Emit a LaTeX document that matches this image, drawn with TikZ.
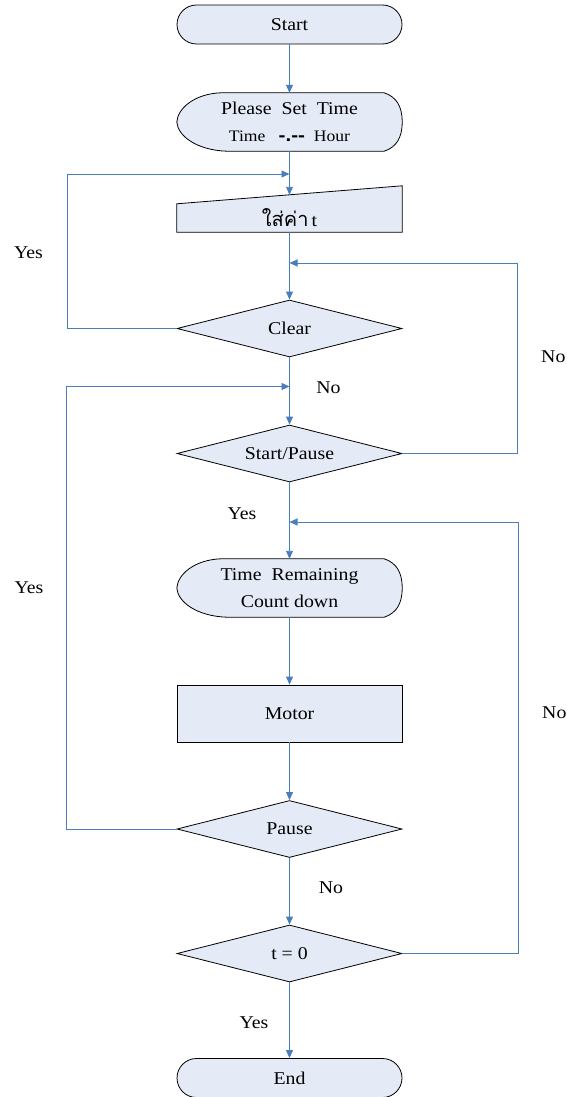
\documentclass[tikz,border=0pt]{standalone}
\usepackage{fontspec}
\setmainfont{Liberation Serif}[FakeStretch=1.1]
\newfontfamily\thaifont[Script=Thai]{Loma}
\newfontfamily\dashfont{Liberation Sans}[FakeStretch=1.15]
\usetikzlibrary{shapes.geometric,shapes.misc,arrows.meta,calc,backgrounds}

\definecolor{flowblue}{HTML}{4A7EBB}
\definecolor{boxfill}{HTML}{E4EBF6}

\tikzset{
  box/.style={draw=black, fill=boxfill, line width=0.8pt, minimum width=225pt,
    inner sep=0pt, font=\fontsize{18}{20}\selectfont},
  terminal/.style={box, rounded rectangle, minimum height=39pt},
  decision/.style={box, diamond, aspect=4, minimum height=57pt},
  process/.style={box, rectangle, minimum height=57pt},
  frame/.style={rectangle, minimum width=225pt, inner sep=0pt, align=center,
    font=\fontsize{18}{20}\selectfont},
  flow/.style={draw=flowblue, line width=0.9pt, -{Triangle[length=8pt,width=7pt]}},
  lbl/.style={font=\fontsize{18}{20}\selectfont, inner sep=0pt},
  outline/.style={draw=black, fill=boxfill, line width=0.8pt},
}

% display symbol drawn round a frame node: bulging left side, rounded right side
\newcommand\dispoutline[1]{%
  \path[outline]
    ($(#1.north west)+(44,0)$) -- ($(#1.north east)+(-18,0)$)
    .. controls ($(#1.north east)+(-6,4)$) and ($(#1.east)+(0,-16)$) .. (#1.east)
    .. controls ($(#1.east)+(0,16)$) and ($(#1.south east)+(-6,-4)$) .. ($(#1.south east)+(-18,0)$)
    -- ($(#1.south west)+(50,0)$)
    .. controls ($(#1.south west)+(20,-1)$) and ($(#1.west)+(1,14)$) .. (#1.west)
    .. controls ($(#1.west)+(1,-14)$) and ($(#1.north west)+(18,1)$) .. cycle;}

\begin{document}
\begin{tikzpicture}[x=1pt, y=-1pt]
\useasboundingbox (0,0) rectangle (566,1097);

% flow symbols
\node[terminal] (start) at (289.5,24.5) {Start};
\node[frame, minimum height=58pt] (set) at (289.5,122)
  {Please~~Set~~Time\\[7pt]{\fontsize{16}{18}\selectfont Time~~~{\dashfont\bfseries\fontsize{18}{18}\selectfont -.--}~~Hour}};
\node[frame, minimum height=28pt] (input) at (289.5,218)
  {{\thaifont\fontsize{20}{22}\selectfont ใส่ค่า}\,t};
\node[decision] (clear) at (289.5,328.5) {Clear};
\node[decision] (sp) at (289.5,453.5) {Start/Pause};
\node[frame, minimum height=58pt] (remain) at (289.5,588)
  {Time~~Remaining\\[7pt]Count down};
\node[process] (motor) at (289.5,713.5) {Motor};
\node[decision] (pause) at (289.5,829) {Pause};
\node[decision] (tz) at (289.5,953.5) {t = 0};
\node[terminal] (end) at (289.5,1078) {End};

\begin{scope}[on background layer]
  \dispoutline{set}
  \dispoutline{remain}
  % manual input: top edge rising to the right
  \path[outline] (input.south west) -- (input.south east)
    -- ($(input.north east)+(0,-18)$) -- (input.north west) -- cycle;
\end{scope}

% junctions where the loops rejoin the main line
\coordinate (j1) at (289.5,174);
\coordinate (j2) at (289.5,263);
\coordinate (j3) at (289.5,386.5);
\coordinate (j4) at (289.5,522);

% main line
\draw[flow] (start.south) -- (set.north);
\draw[flow] (set.south) -- ($(input.north)+(0,-9)$);
\draw[flow] (input.south) -- (clear.north);
\draw[flow] (clear.south) -- (sp.north);
\draw[flow] (sp.south) -- (remain.north);
\draw[flow] (remain.south) -- (motor.north);
\draw[flow] (motor.south) -- (pause.north);
\draw[flow] (pause.south) -- (tz.north);
\draw[flow] (tz.south) -- (end.north);

% loops
\draw[flow] (clear.west) -| (67,174) -- (j1);
\draw[flow] (sp.east) -| (517.5,263) -- (j2);
\draw[flow] (pause.west) -| (66.5,386.5) -- (j3);
\draw[flow] (tz.east) -| (518.5,522) -- (j4);

% branch labels
\node[lbl] (yes1) at (28.5,253) {Yes};
\node[lbl, anchor=west] (no1) at (541,357) {No};
\node[lbl] (no2) at (328.5,388) {No};
\node[lbl] (yes2) at (242,514) {Yes};
\node[lbl] (yes3) at (29,588) {Yes};
\node[lbl, anchor=west] (no3) at (542,713) {No};
\node[lbl] (no4) at (331,888) {No};
\node[lbl] (yes4) at (254,1023) {Yes};
\end{tikzpicture}
\end{document}
